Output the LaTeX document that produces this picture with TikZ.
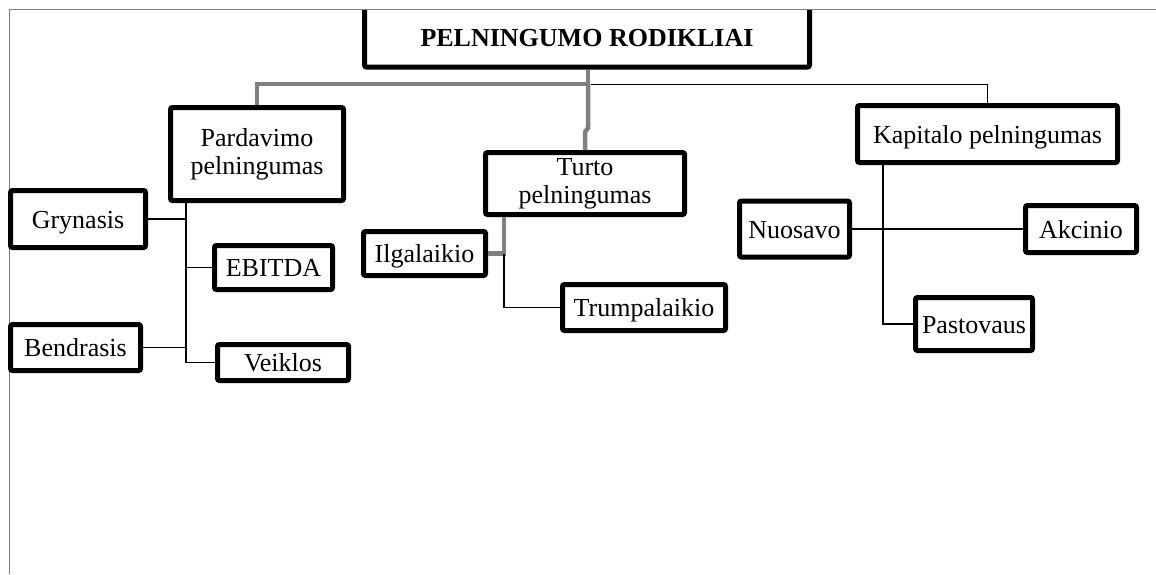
\documentclass[tikz,border=0pt]{standalone}
\usepackage{fontspec}
\setmainfont{Liberation Serif}

\begin{document}
\begin{tikzpicture}[
  x=1pt, y=-1pt,
  box/.style={draw=black, line width=5pt, rounded corners=2pt, align=center,
    inner sep=0pt, font=\fontsize{26}{28}\selectfont},
  sbox/.style={box, text height=18pt, text depth=0pt},
  link/.style={black, line width=1.6pt},
  glink/.style={gray, line width=4.5pt},
  frame/.style={gray, line width=1.5pt}]

  \useasboundingbox (0,0) rectangle (1156,574);
  \draw[frame] (9.5,574) -- (9.5,9.5) -- (1156,9.5); % page edge

  \begin{scope}
    \clip (0,10.5) rectangle (1156,574);
    \node[sbox, minimum width=445pt, minimum height=60pt,
      font=\fontsize{26}{28}\selectfont\bfseries] (title) at (587,37) {PELNINGUMO RODIKLIAI};
  \end{scope}

  \node[box, minimum width=173pt, minimum height=93pt] (pard) at (257,154) {Pardavimo\\pelningumas};
  \node[sbox, minimum width=135pt, minimum height=57pt] (gryn) at (78,219) {Grynasis};
  \node[sbox, minimum width=118pt, minimum height=44pt] (ebit) at (273.5,267.5) {EBITDA};
  \node[sbox, minimum width=130pt, minimum height=46pt] (bend) at (75.5,347.5) {Bendrasis};
  \node[sbox, minimum width=131pt, minimum height=36pt] (veik) at (283,362.5) {Veiklos};

  \node[box, minimum width=199pt, minimum height=62pt] (turto) at (585,183.5) {Turto\\pelningumas};
  \node[sbox, minimum width=122pt, minimum height=44pt] (ilga) at (424.5,253.5) {Ilgalaikio};
  \node[sbox, minimum width=163pt, minimum height=46pt] (trum) at (644,307.5) {Trumpalaikio};

  \node[sbox, minimum width=260pt, minimum height=57pt] (kap) at (987.5,134) {Kapitalo pelningumas};
  \node[sbox, minimum width=110pt, minimum height=56pt] (nuos) at (794.5,229) {Nuosavo};
  \node[sbox, minimum width=111pt, minimum height=47pt] (akc) at (1081,229) {Akcinio};
  \node[sbox, minimum width=117pt, minimum height=53pt] (past) at (974,324) {Pastovaus};

  % from the title
  \coordinate (hub) at (588,84);
  \draw[glink] (title.south -| hub) -- (hub) -| (pard.north);
  \draw[glink] (hub) -- ++(0,44) -- ++(-3,4) -- (turto.north);
  \draw[link] (title.south -| hub) ++(3,15) -| (kap.north);

  % Pardavimo branch
  \coordinate (ptrunk) at (186,0);
  \draw[link] (pard.south -| ptrunk) |- (veik.west);
  \draw[link] (gryn.east) -- (gryn.east -| ptrunk);
  \draw[link] (ebit.west) -- (ebit.west -| ptrunk);
  \draw[link] (bend.east) -- (bend.east -| ptrunk);

  % Turto branch
  \coordinate (ttrunk) at (504,0);
  \draw[glink] (turto.south -| ttrunk) |- (ilga.east);
  \draw[link] (ilga.east -| ttrunk) |- (trum.west);

  % Kapitalo branch
  \coordinate (ktrunk) at (883,0);
  \draw[link] (kap.south -| ktrunk) |- (past.west);
  \draw[link] (nuos.east) -- (akc.west);
\end{tikzpicture}
\end{document}
